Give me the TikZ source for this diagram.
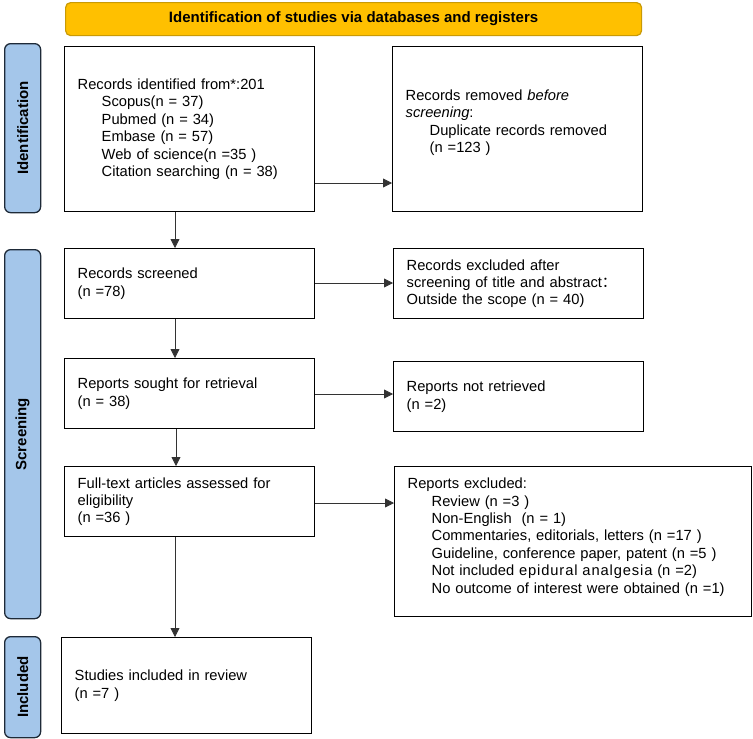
\documentclass[tikz,border=0pt]{standalone}
\usepackage{fontspec}
\setmainfont{Liberation Sans}
\newfontfamily\cjkfont{Noto Sans CJK SC}
\usetikzlibrary{arrows.meta}
\definecolor{bannerfill}{HTML}{FFC000}
\definecolor{bannerdraw}{HTML}{C99A06}
\definecolor{sidefill}{HTML}{A4C6EA}
\definecolor{sidedraw}{HTML}{1E2A38}
\tikzset{
  banner/.style={draw=bannerdraw, line width=1.2pt, fill=bannerfill, rounded corners=5pt, inner sep=0pt},
  sidebar/.style={draw=sidedraw, line width=1.3pt, fill=sidefill, rounded corners=6pt, inner sep=0pt},
  sidelabel/.style={font=\fontsize{15}{17}\selectfont\bfseries, rotate=90},
  flowbox/.style={draw=black, line width=1.4pt, inner sep=0pt, align=left, anchor=north west,
    font=\fontsize{14.7}{17.4}\selectfont},
  flowarrow/.style={draw=black!80, line width=0.8pt, -{Triangle[length=9pt,width=9pt]}}
}
\newcommand{\ind}{\hspace*{24pt}}
\begin{document}
\begin{tikzpicture}[x=1pt,y=-1pt]
\useasboundingbox (0,0) rectangle (753,739);
% banner
\node[banner, minimum width=576pt, minimum height=33pt, anchor=north west,
  font=\fontsize{15}{17}\selectfont\bfseries] (ban) at (65,2) {Identification of studies via databases and registers};
% side bars
\node[sidebar, minimum width=36pt, minimum height=169pt, anchor=north west] (sid) at (4,43) {};
\node[sidelabel] (sidt) at (sid.center) {Identification};
\node[sidebar, minimum width=36pt, minimum height=369pt, anchor=north west] (sscr) at (4,249) {};
\node[sidelabel] (sscrt) at (sscr.center) {Screening};
\node[sidebar, minimum width=36pt, minimum height=101pt, anchor=north west] (sinc) at (4,636) {};
\node[sidelabel] (sinct) at (sinc.center) {Included};
% boxes
\node[flowbox, minimum width=250pt, minimum height=165pt, text width=224pt, inner xsep=13pt] (id) at (64,46)
  {Records identified from*:201\\
   \ind Scopus(n = 37)\\
   \ind Pubmed (n = 34)\\
   \ind Embase (n = 57)\\
   \ind Web of science(n =35 )\\
   \ind Citation searching (n = 38)};
\node[flowbox, minimum width=250pt, minimum height=165pt, text width=224pt, inner xsep=13pt] (rem) at (392,46)
  {Records removed \textit{before}\\
   \textit{screening}:\\
   \ind Duplicate records removed\\
   \ind (n =123 )\\[-1pt]\mbox{}};
\node[flowbox, minimum width=250pt, minimum height=70pt, text width=224pt, inner xsep=13pt] (scr) at (64,248)
  {Records screened\\(n =78)};
\node[flowbox, minimum width=250pt, minimum height=70pt, text width=224pt, inner xsep=13pt] (exc) at (393,248)
  {Records excluded after\\screening of title and abstract{\cjkfont ：}\\Outside the scope (n = 40)};
\node[flowbox, minimum width=250pt, minimum height=70pt, text width=224pt, inner xsep=13pt] (sou) at (64,358)
  {Reports sought for retrieval\\(n = 38)};
\node[flowbox, minimum width=250pt, minimum height=70pt, text width=224pt, inner xsep=13pt] (nre) at (393,361)
  {Reports not retrieved\\(n =2)};
\node[flowbox, minimum width=250pt, minimum height=70pt, text width=224pt, inner xsep=13pt] (ful) at (64,466)
  {Full-text articles assessed for\\eligibility\\(n =36 )};
\node[flowbox, minimum width=357pt, minimum height=150pt, text width=331pt, inner xsep=13pt] (rex) at (394,466)
  {Reports excluded:\\
   \ind Review (n =3 )\\
   \ind Non-English\ \ (n = 1)\\
   \ind Commentaries, editorials, letters (n =17 )\\
   \ind Guideline, conference paper, patent (n =5 )\\
   \ind Not included {\addfontfeature{LetterSpace=6}epidural analgesia} (n =2)\\
   \ind No outcome of interest were obtained (n =1)\\[-5pt]\mbox{}};
\node[flowbox, minimum width=250pt, minimum height=96pt, text width=224pt, inner xsep=13pt] (inc) at (61,637)
  {Studies included in review\\(n =7 )};
% arrows
\draw[flowarrow] (id.south -| 175,0) -- (scr.north -| 175,0);
\draw[flowarrow] (scr.south -| 175,0) -- (sou.north -| 175,0);
\draw[flowarrow] (sou.south -| 176,0) -- (ful.north -| 176,0);
\draw[flowarrow] (ful.south -| 175,0) -- (inc.north -| 175,0);
\draw[flowarrow] (id.east |- 0,183) -- (rem.west |- 0,183);
\draw[flowarrow] (scr.east |- 0,283) -- (exc.west |- 0,283);
\draw[flowarrow] (sou.east |- 0,394) -- (nre.west |- 0,394);
\draw[flowarrow] (ful.east |- 0,503) -- (rex.west |- 0,503);
\end{tikzpicture}
\end{document}
